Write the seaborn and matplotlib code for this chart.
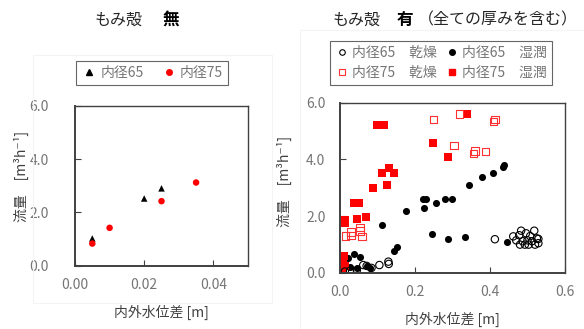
import matplotlib
matplotlib.use("Agg")
import matplotlib.pyplot as plt
from matplotlib.patches import Rectangle
from matplotlib.lines import Line2D
import seaborn as sns
import pandas as pd

sns.set_theme(style="white")
plt.rcParams['font.family'] = ['Noto Sans CJK JP', 'DejaVu Sans']

# ---- left chart (もみ殻 無) ----
l65_x = [0.0, 0.005, 0.020, 0.025]
l65_y = [0.0, 1.02, 2.52, 2.90]
l75_x = [0.005, 0.010, 0.025, 0.035]
l75_y = [0.83, 1.42, 2.42, 3.12]

# ---- right chart (もみ殻 有) ----
dry65_x = [0.413, 0.483, 0.518, 0.462, 0.478, 0.496, 0.507, 0.525, 0.529, 0.470, 0.487,
           0.500, 0.512, 0.480, 0.493, 0.503, 0.520, 0.529,
           0.013, 0.027, 0.045, 0.062, 0.071, 0.084, 0.105, 0.129, 0.130]
dry65_y = [1.19, 1.49, 1.49, 1.29, 1.33, 1.40, 1.30, 1.22, 1.20, 1.15, 1.12,
           1.15, 1.12, 1.00, 1.00, 1.00, 1.00, 1.05,
           0.05, 0.08, 0.10, 0.28, 0.25, 0.18, 0.28, 0.40, 0.32]
wet65_x = [0.437, 0.434, 0.409, 0.379, 0.345, 0.220, 0.229, 0.279, 0.299, 0.255, 0.225,
           0.175, 0.111, 0.151, 0.145, 0.245, 0.289, 0.333, 0.444,
           0.036, 0.053, 0.071, 0.027, 0.044, 0.020, 0.080, 0.010, 0.004]
wet65_y = [3.80, 3.72, 3.51, 3.39, 3.09, 2.59, 2.59, 2.59, 2.59, 2.48, 2.28,
           2.17, 1.68, 0.90, 0.79, 1.37, 1.19, 1.28, 1.08,
           0.66, 0.57, 0.25, 0.22, 0.16, 0.52, 0.18, 0.30, 0.40]
dry75_x = [0.318, 0.249, 0.409, 0.413, 0.304, 0.356, 0.360, 0.388,
           0.015, 0.029, 0.029, 0.053, 0.053, 0.059]
dry75_y = [5.60, 5.41, 5.33, 5.41, 4.49, 4.22, 4.30, 4.29,
           1.30, 1.45, 1.33, 1.61, 1.48, 1.28]
wet75_x = [0.338, 0.098, 0.107, 0.116, 0.249, 0.289, 0.131, 0.145, 0.111, 0.124, 0.089,
           0.037, 0.051, 0.044, 0.069, 0.013, 0.013,
           0.002, 0.004, 0.006, 0.008, 0.010, 0.003, 0.012, 0.001, 0.007]
wet75_y = [5.60, 5.21, 5.21, 5.21, 4.59, 4.10, 3.71, 3.51, 3.51, 3.10, 3.00,
           2.48, 2.48, 1.89, 1.98, 1.85, 1.75,
           0.05, 0.20, 0.35, 0.50, 0.60, 0.45, 0.25, 0.60, 0.10]

GRAY = '#757575'
SPINE = '#404040'

fig = plt.figure(figsize=(5.84, 3.29), dpi=100)

# faint panel borders
for (x0, y0, x1, y1) in [(33, 55, 272, 303), (300, 30, 584, 329)]:
    fig.patches.append(Rectangle((x0 / 584, 1 - y1 / 329), (x1 - x0) / 584, (y1 - y0) / 329,
                                 transform=fig.transFigure, fill=False,
                                 edgecolor='#f4f4f4', lw=0.8))

axL = fig.add_axes([75 / 584, (329 - 265.7) / 329, 173 / 584, 160 / 329])
axR = fig.add_axes([340 / 584, (329 - 273) / 329, 225 / 584, 170.3 / 329])

dL = pd.concat([
    pd.DataFrame({'x': l65_x, 'y': l65_y, 's': '内径65'}),
    pd.DataFrame({'x': l75_x, 'y': l75_y, 's': '内径75'}),
])
sns.scatterplot(data=dL, x='x', y='y', hue='s', style='s',
                palette={'内径65': 'black', '内径75': '#ff0000'},
                markers={'内径65': '^', '内径75': 'o'}, s=22, linewidth=0,
                ax=axL, legend=False)

dR = pd.concat([
    pd.DataFrame({'x': dry65_x, 'y': dry65_y, 's': 'd65'}),
    pd.DataFrame({'x': wet65_x, 'y': wet65_y, 's': 'w65'}),
    pd.DataFrame({'x': dry75_x, 'y': dry75_y, 's': 'd75'}),
    pd.DataFrame({'x': wet75_x, 'y': wet75_y, 's': 'w75'}),
])
sub = dR[dR.s == 'w65']
sns.scatterplot(data=sub, x='x', y='y', marker='o', color='black', s=26, linewidth=0, ax=axR)
sub = dR[dR.s == 'w75']
sns.scatterplot(data=sub, x='x', y='y', marker='s', color='#ff0000', s=26, linewidth=0, ax=axR)
sub = dR[dR.s == 'd65']
sns.scatterplot(data=sub, x='x', y='y', marker='o', facecolor='none', edgecolor='black',
                s=28, linewidth=0.8, ax=axR)
sub = dR[dR.s == 'd75']
sns.scatterplot(data=sub, x='x', y='y', marker='s', facecolor='none', edgecolor='#ff3030',
                s=28, linewidth=0.8, ax=axR)

for ax in (axL, axR):
    ax.set_ylim(0, 6)
    ax.set_yticks([0, 2, 4, 6])
    ax.set_yticklabels(['0.0', '2.0', '4.0', '6.0'])
    for name, sp in ax.spines.items():
        sp.set_visible(True)
        sp.set_color(SPINE)
        sp.set_linewidth(1.4 if name in ('left', 'bottom') else 1.0)
    ax.tick_params(direction='in', length=4, width=0.8, color=SPINE,
                   labelcolor=GRAY, labelsize=10, bottom=True, left=True)
    ax.set_facecolor('white')

axL.set_xlim(0, 0.05)
axL.set_xticks([0, 0.02, 0.04])
axL.set_xticklabels(['0.00', '0.02', '0.04'])
axL.tick_params(axis='y', pad=19)
axL.tick_params(axis='x', pad=9)
axR.set_xlim(0, 0.6)
axR.set_xticks([0, 0.2, 0.4, 0.6])
axR.set_xticklabels(['0.0', '0.2', '0.4', '0.6'])
axR.tick_params(axis='y', pad=10.5)
axR.tick_params(axis='x', pad=9)

for ax in (axL, axR):
    ax.set_xlabel('内外水位差 [m]', fontsize=10, color='#404040')
    ax.set_ylabel('流量　[m³h⁻¹]', fontsize=10, color='#404040')
axL.xaxis.set_label_coords(0.5, -0.245, transform=axL.transAxes)
axR.xaxis.set_label_coords(0.5, -0.225, transform=axR.transAxes)
axL.yaxis.set_label_coords((29 - 75) / 173, 0.56)
axR.yaxis.set_label_coords((292 - 340) / 225, 0.54)

# legends
hL = [Line2D([], [], ls='', marker='^', color='black', markersize=4),
      Line2D([], [], ls='', marker='o', color='#ff0000', markersize=4)]
legL = axL.legend(hL, ['内径65', '内径75'], ncol=2, loc='center',
                  bbox_to_anchor=((152 - 75) / 173, (265.7 - 73) / 160),
                  fontsize=10, frameon=True, fancybox=False, edgecolor='#404040',
                  handletextpad=0.2, columnspacing=1.2, borderpad=0.35, handlelength=1.2)
for t in legL.get_texts():
    t.set_color(GRAY)
legL.get_frame().set_linewidth(0.8)

hR = [Line2D([], [], ls='', marker='o', mfc='none', mec='black', markersize=4, mew=0.8),
      Line2D([], [], ls='', marker='s', mfc='none', mec='#ff3030', markersize=4, mew=0.8),
      Line2D([], [], ls='', marker='o', color='black', markersize=4),
      Line2D([], [], ls='', marker='s', color='#ff0000', markersize=4)]
legR = axR.legend(hR, ['内径65　乾燥', '内径75　乾燥', '内径65　湿潤', '内径75　湿潤'],
                  ncol=2, loc='center',
                  bbox_to_anchor=((441 - 340) / 225, (273 - 63) / 170.3),
                  fontsize=10, frameon=True, fancybox=False, edgecolor='#404040',
                  handletextpad=0.2, columnspacing=0.6, borderpad=0.35, handlelength=1.0,
                  labelspacing=0.45)
for t in legR.get_texts():
    t.set_color(GRAY)
legR.get_frame().set_linewidth(0.8)

# titles
fig.text(95 / 584, 1 - 20 / 329, 'もみ殻', fontsize=11.5, va='center', ha='left', color='#262626')
fig.text(163 / 584, 1 - 20 / 329, '無', fontsize=12, va='center', ha='left',
         fontweight='bold', color='black')
fig.text(332 / 584, 1 - 20 / 329, 'もみ殻', fontsize=11.5, va='center', ha='left', color='#262626')
fig.text(397 / 584, 1 - 20 / 329, '有', fontsize=12, va='center', ha='left',
         fontweight='bold', color='black')
fig.text(418 / 584, 1 - 20 / 329, '（全ての厚みを含む）', fontsize=11.5, va='center',
         ha='left', color='#262626')

fig.savefig('out.png', dpi=100)
